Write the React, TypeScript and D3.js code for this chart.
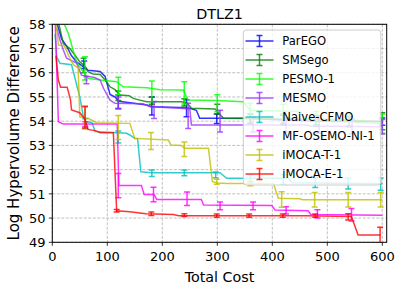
import * as d3 from 'd3'

type Pt = [number, number]
type Bar = [number, number, number]

const xTicks = [0, 100, 200, 300, 400, 500, 600]
const yTicks = [49, 50, 51, 52, 53, 54, 55, 56, 57, 58]

const seriesNames = ['ParEGO', 'SMSego', 'PESMO-1', 'MESMO', 'Naive-CFMO', 'MF-OSEMO-NI-1', 'iMOCA-T-1', 'iMOCA-E-1']
const seriesColors = ['#0000ff', '#008000', '#00ff00', '#9933ff', '#00bfbf', '#ff00ff', '#bfbf00', '#ff0000']

const parEgoLine: Pt[] = [[5, 58.3], [17, 57.4], [26, 57.1], [35, 56.7], [44, 56.45], [53, 56.3], [65, 56.1], [87, 56.05], [96, 55.85], [105, 55.1], [114, 55.0], [121, 54.82], [172, 54.67], [181, 54.6], [232, 54.57], [250, 54.53], [262, 54.45], [268, 54.12], [350, 54.12], [420, 54.05], [480, 54.0], [600, 53.98]]
const parEgoBars: Bar[] = [[58, 56.33, 0.15], [120, 54.8, 0.28], [181, 54.63, 0.37], [244, 54.53, 0.35], [299, 54.1, 0.2], [360, 54.1, 0.2], [420, 54.05, 0.2], [480, 54.0, 0.2], [540, 53.98, 0.2], [600, 53.98, 0.15]]

const smsLine: Pt[] = [[9, 58.3], [20, 57.2], [32, 57.0], [41, 56.73], [50, 56.45], [60, 56.25], [65, 56.04], [74, 55.95], [87, 55.93], [96, 55.7], [105, 55.42], [114, 55.3], [123, 55.08], [140, 55.05], [147, 54.94], [159, 54.87], [172, 54.8], [235, 54.8], [245, 54.75], [253, 54.53], [296, 54.5], [311, 54.12], [400, 54.1], [600, 54.0]]
const smsBars: Bar[] = [[57, 56.3, 0.3], [120, 55.05, 0.2], [181, 54.85, 0.15], [240, 54.78, 0.15], [300, 54.5, 0.2], [360, 54.1, 0.2], [420, 54.1, 0.2], [480, 54.05, 0.2], [540, 54.0, 0.2], [600, 54.0, 0.35]]

const pesmoLine: Pt[] = [[20, 58.1], [29, 57.63], [44, 56.45], [56, 56.04], [65, 55.77], [87, 55.7], [117, 55.63], [129, 55.42], [172, 55.38], [196, 55.3], [238, 55.29], [247, 54.87], [300, 54.85], [347, 54.8], [360, 54.45], [450, 54.4], [460, 54.1], [540, 54.05], [550, 53.95], [600, 53.9]]
const pesmoBars: Bar[] = [[59.5, 56.18, 0.48], [120, 55.45, 0.36], [181, 55.23, 0.43], [240, 55.17, 0.46], [300, 54.74, 0.35], [360, 54.45, 0.3], [420, 54.4, 0.3], [480, 54.1, 0.3], [540, 54.05, 0.3], [600, 53.9, 0.4]]

const mesmoLine: Pt[] = [[8, 57.83], [14, 57.35], [20, 56.94], [26, 56.6], [35, 56.5], [44, 56.4], [53, 55.9], [65, 55.85], [77, 55.8], [87, 55.7], [93, 55.36], [105, 54.87], [114, 54.74], [165, 54.72], [178, 54.6], [232, 54.53], [250, 54.5], [253, 53.84], [460, 53.84], [470, 53.8], [600, 53.77]]
const mesmoBars: Bar[] = [[62, 55.7, 0.15], [120, 54.75, 0.25], [185, 54.46, 0.35], [247, 54.22, 0.52], [305, 54.0, 0.45], [365, 53.85, 0.3], [425, 53.85, 0.3], [485, 53.8, 0.3], [545, 53.78, 0.3], [600, 53.77, 0.3]]

const naiveLine: Pt[] = [[5, 57.6], [8, 56.66], [14, 56.39], [35, 56.33], [50, 55.0], [56, 54.25], [60, 53.98], [72, 53.95], [78, 53.57], [135, 53.5], [141, 53.43], [150, 53.29], [155, 53.29], [161, 51.91], [180, 51.87], [305, 51.87], [317, 51.64], [429, 51.64], [436, 51.46], [600, 51.42]]
const naiveBars: Bar[] = [[60, 53.9, 0.2], [120, 53.35, 0.25], [181, 51.85, 0.13], [240, 51.87, 0.12], [297, 51.78, 0.12], [360, 51.64, 0.15], [420, 51.6, 0.2], [478, 51.46, 0.2], [538, 51.42, 0.22], [597, 51.4, 0.25]]

const mfLine: Pt[] = [[5, 58.3], [9, 55.5], [11, 53.98], [20, 53.88], [118, 53.88], [121, 51.35], [162, 51.35], [167, 50.97], [185, 50.97], [190, 50.77], [271, 50.77], [275, 50.54], [399, 50.52], [405, 50.33], [465, 50.3], [470, 50.15], [600, 50.12]]
const mfBars: Bar[] = [[60, 53.88, 0.1], [120, 51.34, 0.5], [184, 50.97, 0.3], [245, 50.8, 0.28], [305, 50.5, 0.16], [365, 50.5, 0.16], [425, 50.32, 0.15], [482, 50.17, 0.17], [544, 50.14, 0.26]]

const tLine: Pt[] = [[6, 58.3], [11, 57.15], [22, 57.1], [35, 56.45], [40, 56.3], [47, 56.2], [50, 54.18], [56, 54.15], [65, 54.12], [81, 53.94], [141, 53.91], [150, 53.29], [211, 53.22], [216, 53.02], [235, 53.0], [240, 52.88], [284, 52.88], [291, 51.5], [300, 51.45], [320, 51.43], [402, 51.43], [411, 50.82], [450, 50.8], [455, 50.76], [600, 50.76]]
const tBars: Bar[] = [[59.5, 54.13, 0.45], [120, 53.74, 0.5], [179.5, 53.18, 0.35], [240, 52.84, 0.3], [299, 51.5, 0.1], [360, 51.43, 0.1], [417, 50.77, 0.32], [477, 50.76, 0.3], [538, 50.76, 0.3], [597, 50.76, 0.3]]

const eLine: Pt[] = [[6.7, 56.7], [11, 55.7], [15, 55.4], [27, 55.4], [33, 54.9], [35, 54.46], [50, 54.35], [59.5, 54.08], [65, 53.66], [80, 53.6], [87, 53.52], [111, 53.52], [117, 50.3], [141, 50.26], [170, 50.18], [220, 50.15], [230, 50.1], [460, 50.1], [544, 50.06], [556, 49.3], [597, 49.3]]
const eBars: Bar[] = [[59.5, 54.17, 0.45], [117, 50.3, 0.05], [180, 50.18, 0.07], [240, 50.12, 0.06], [299, 50.1, 0.07], [358, 50.1, 0.07], [419, 50.1, 0.07], [478, 50.1, 0.07], [538, 50.05, 0.13], [596, 49.27, 0.35]]

const seriesLines = [parEgoLine, smsLine, pesmoLine, mesmoLine, naiveLine, mfLine, tLine, eLine]
const seriesBars = [parEgoBars, smsBars, pesmoBars, mesmoBars, naiveBars, mfBars, tBars, eBars]

const W = 403
const H = 290
const left = 52.3
const right = 386.7
const top = 24.3
const bottom = 242.3
const font = 'DejaVu Sans, sans-serif'

export default function App() {
  const x = d3.scaleLinear().domain([0, 608]).range([left, right])
  const y = d3.scaleLinear().domain([49, 58]).range([bottom, top])
  const line = d3
    .line<Pt>()
    .x((d) => x(d[0]))
    .y((d) => y(d[1]))

  const cap = 3
  const legX = 243.3
  const legY = 30
  const rowH = 19
  const alpha = 0.8

  return (
    <svg width={W} height={H} style={{ position: 'absolute', left: 0, top: 0 }} fontFamily={font}>
      <rect width={W} height={H} fill="#fff" />
      <defs>
        <clipPath id="plot">
          <rect x={left} y={top} width={right - left} height={bottom - top} />
        </clipPath>
      </defs>

      {/* grid */}
      <g stroke="#b0b0b0" strokeWidth={0.8} strokeDasharray="3,1.5">
        {xTicks.map((t) => (
          <line key={'gx' + t} x1={x(t)} x2={x(t)} y1={top} y2={bottom} />
        ))}
        {yTicks.map((t) => (
          <line key={'gy' + t} x1={left} x2={right} y1={y(t)} y2={y(t)} />
        ))}
      </g>

      <g clipPath="url(#plot)">
        {seriesNames.map((name, i) => (
          <g key={name} stroke={seriesColors[i]} strokeOpacity={alpha} strokeWidth={1.5} fill="none">
            <path d={line(seriesLines[i]) || ''} />
            {seriesBars[i].map(([bx, m, e], j) => (
              <g key={j}>
                <line x1={x(bx)} x2={x(bx)} y1={y(m - e)} y2={y(m + e)} />
                <line x1={x(bx) - cap} x2={x(bx) + cap} y1={y(m - e)} y2={y(m - e)} />
                <line x1={x(bx) - cap} x2={x(bx) + cap} y1={y(m + e)} y2={y(m + e)} />
              </g>
            ))}
          </g>
        ))}
      </g>

      {/* axes */}
      <rect x={left} y={top} width={right - left} height={bottom - top} fill="none" stroke="#000" strokeWidth={1} />
      <g fontSize={13} fill="#000">
        {xTicks.map((t) => (
          <g key={'tx' + t}>
            <line x1={x(t)} x2={x(t)} y1={bottom} y2={bottom + 3.5} stroke="#000" strokeWidth={0.8} />
            <text x={x(t)} y={261} textAnchor="middle">
              {t}
            </text>
          </g>
        ))}
        {yTicks.map((t) => (
          <g key={'ty' + t}>
            <line x1={left - 3.5} x2={left} y1={y(t)} y2={y(t)} stroke="#000" strokeWidth={0.8} />
            <text x={45.5} y={y(t)} dy="0.36em" textAnchor="end">
              {t}
            </text>
          </g>
        ))}
      </g>

      <text x={(left + right) / 2} y={19} textAnchor="middle" fontSize={14.3}>
        DTLZ1
      </text>
      <text x={(left + right) / 2} y={282} textAnchor="middle" fontSize={14.3}>
        Total Cost
      </text>
      <text transform={`translate(18.5,${(top + bottom) / 2}) rotate(-90)`} textAnchor="middle" fontSize={15}>
        Log Hypervolume Difference
      </text>

      {/* legend */}
      <rect x={legX} y={legY} width={137.5} height={155} rx={3} fill="#fff" fillOpacity={0.8} stroke="#cccccc" strokeWidth={1} />
      {seriesNames.map((name, i) => {
        const cy = legY + 11 + i * rowH
        return (
          <g key={'leg' + name}>
            <g stroke={seriesColors[i]} strokeOpacity={alpha} strokeWidth={1.5}>
              <line x1={245.5} x2={273.5} y1={cy} y2={cy} />
              <line x1={259.5} x2={259.5} y1={cy - 5.5} y2={cy + 5.5} />
              <line x1={259.5 - cap} x2={259.5 + cap} y1={cy - 5.5} y2={cy - 5.5} />
              <line x1={259.5 - cap} x2={259.5 + cap} y1={cy + 5.5} y2={cy + 5.5} />
            </g>
            <text x={282.3} y={cy + 4.3} fontSize={11.6}>
              {name}
            </text>
          </g>
        )
      })}
    </svg>
  )
}
